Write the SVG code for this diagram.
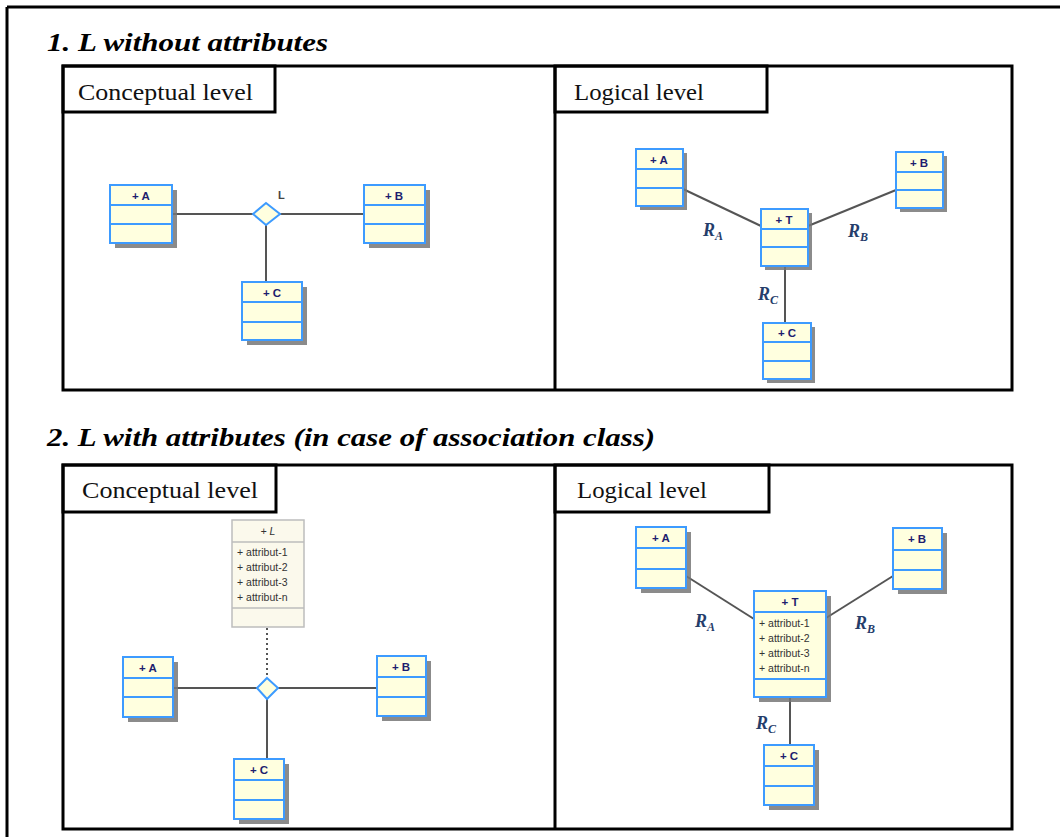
<svg xmlns="http://www.w3.org/2000/svg" width="1060" height="837" viewBox="0 0 1060 837">
<style>
.frame{fill:none;stroke:#000;stroke-width:3}
.title{font-family:"Liberation Serif","DejaVu Serif",serif;font-weight:bold;font-style:italic;font-size:25px;fill:#000}
.tab{font-family:"Liberation Serif","DejaVu Serif",serif;font-size:23px;fill:#111}
.sh{fill:#777;opacity:0.85}
.cls{fill:#ffffdf;stroke:#3d9bff;stroke-width:2}
.sep{stroke:#3d9bff;stroke-width:2}
.gcls{fill:#fbf9ec;stroke:#bdbdbd;stroke-width:1.5}
.gsep{stroke:#bdbdbd;stroke-width:1.5}
.ct{font-family:"Liberation Sans",Arial,sans-serif;font-weight:bold;font-size:11.5px;fill:#1e1e6e;text-anchor:middle}
.at{font-family:"Liberation Sans",Arial,sans-serif;font-size:10.5px;fill:#333}
.conn{stroke:#555;stroke-width:2;fill:none}
.dash{stroke:#555;stroke-width:2;stroke-dasharray:2 3;fill:none}
.dia{fill:#ffffdf;stroke:#3d9bff;stroke-width:2}
.rl{font-family:"Liberation Serif","DejaVu Serif",serif;font-weight:bold;font-style:italic;font-size:18px;fill:#253d6b}
.sub{font-size:12px}
.ll{font-family:"Liberation Sans",Arial,sans-serif;font-weight:bold;font-size:11px;fill:#444}
</style>

<g id="outer">
<line class="frame" x1="7" y1="7" x2="1060" y2="7"/>
<line class="frame" x1="7" y1="7" x2="7" y2="837"/>
</g>

<text class="title" x="47" y="51" textLength="281" lengthAdjust="spacingAndGlyphs">1. L without attributes</text>
<text class="title" x="47" y="446" textLength="608" lengthAdjust="spacingAndGlyphs">2. L with attributes (in case of association class)</text>

<g id="frame1">
<rect class="frame" x="63" y="66" width="949" height="324"/>
<line class="frame" x1="555" y1="66" x2="555" y2="390"/>
<rect class="frame" x="63" y="66" width="212" height="46"/>
<rect class="frame" x="555" y="66" width="212" height="46"/>
<text class="tab" x="78" y="100" textLength="175" lengthAdjust="spacingAndGlyphs">Conceptual level</text>
<text class="tab" x="574" y="100" textLength="130" lengthAdjust="spacingAndGlyphs">Logical level</text>
</g>

<g id="frame2">
<rect class="frame" x="63" y="465" width="949" height="364"/>
<line class="frame" x1="555" y1="465" x2="555" y2="829"/>
<rect class="frame" x="63" y="465" width="213" height="47"/>
<rect class="frame" x="555" y="465" width="214" height="47"/>
<text class="tab" x="82" y="498" textLength="176" lengthAdjust="spacingAndGlyphs">Conceptual level</text>
<text class="tab" x="577" y="498" textLength="130" lengthAdjust="spacingAndGlyphs">Logical level</text>
</g>

<g id="connectors">
<line class="conn" x1="172" y1="214" x2="253" y2="214"/>
<line class="conn" x1="280" y1="214" x2="364" y2="214"/>
<line class="conn" x1="266" y1="225" x2="266" y2="282"/>
<line class="conn" x1="683" y1="189" x2="761" y2="226"/>
<line class="conn" x1="808" y1="226" x2="896" y2="190"/>
<line class="conn" x1="785" y1="266" x2="785" y2="323"/>
<line class="conn" x1="173" y1="688" x2="257" y2="688"/>
<line class="conn" x1="278" y1="688" x2="377" y2="688"/>
<line class="conn" x1="267" y1="699" x2="267" y2="759"/>
<line class="dash" x1="267" y1="628" x2="267" y2="677"/>
<line class="conn" x1="686" y1="576" x2="754" y2="619"/>
<line class="conn" x1="826" y1="618" x2="893" y2="576"/>
<line class="conn" x1="790" y1="697" x2="790" y2="745"/>
<text class="rl" x="703" y="236">R<tspan class="sub" dy="4">A</tspan></text>
<text class="rl" x="848" y="237">R<tspan class="sub" dy="4">B</tspan></text>
<text class="rl" x="758" y="300">R<tspan class="sub" dy="4">C</tspan></text>
<text class="rl" x="695" y="627">R<tspan class="sub" dy="4">A</tspan></text>
<text class="rl" x="855" y="629">R<tspan class="sub" dy="4">B</tspan></text>
<text class="rl" x="756" y="729">R<tspan class="sub" dy="4">C</tspan></text>
</g>

<g id="c1-diamond">
<polygon class="dia" points="266,203 280,214 266,225 253,214"/>
<text class="ll" x="278" y="199">L</text>
</g>
<g id="c1-A">
<rect class="sh" x="115" y="190" width="62" height="58"/>
<rect class="cls" x="110" y="185" width="62" height="58"/>
<line class="sep" x1="110" y1="205" x2="172" y2="205"/>
<line class="sep" x1="110" y1="224" x2="172" y2="224"/>
<text class="ct" x="141" y="200" font-size="13">+ A</text>
</g>
<g id="c1-B">
<rect class="sh" x="369" y="190" width="61" height="58"/>
<rect class="cls" x="364" y="185" width="61" height="58"/>
<line class="sep" x1="364" y1="205" x2="425" y2="205"/>
<line class="sep" x1="364" y1="224" x2="425" y2="224"/>
<text class="ct" x="394" y="200" font-size="13">+ B</text>
</g>
<g id="c1-C">
<rect class="sh" x="247" y="287" width="60" height="58"/>
<rect class="cls" x="242" y="282" width="60" height="58"/>
<line class="sep" x1="242" y1="302" x2="302" y2="302"/>
<line class="sep" x1="242" y1="322" x2="302" y2="322"/>
<text class="ct" x="272" y="297" font-size="13">+ C</text>
</g>

<g id="l1-A">
<rect class="sh" x="640" y="153" width="47" height="57"/>
<rect class="cls" x="636" y="149" width="47" height="57"/>
<line class="sep" x1="636" y1="169" x2="683" y2="169"/>
<line class="sep" x1="636" y1="188" x2="683" y2="188"/>
<text class="ct" x="659" y="164" font-size="10.5">+ A</text>
</g>
<g id="l1-B">
<rect class="sh" x="900" y="156" width="47" height="56"/>
<rect class="cls" x="896" y="152" width="47" height="56"/>
<line class="sep" x1="896" y1="172" x2="943" y2="172"/>
<line class="sep" x1="896" y1="190" x2="943" y2="190"/>
<text class="ct" x="919" y="167" font-size="10.5">+ B</text>
</g>
<g id="l1-T">
<rect class="sh" x="765" y="213" width="47" height="57"/>
<rect class="cls" x="761" y="209" width="47" height="57"/>
<line class="sep" x1="761" y1="229" x2="808" y2="229"/>
<line class="sep" x1="761" y1="247" x2="808" y2="247"/>
<text class="ct" x="784" y="224" font-size="10.5">+ T</text>
</g>
<g id="l1-C">
<rect class="sh" x="767" y="327" width="48" height="56"/>
<rect class="cls" x="763" y="323" width="48" height="56"/>
<line class="sep" x1="763" y1="342" x2="811" y2="342"/>
<line class="sep" x1="763" y1="361" x2="811" y2="361"/>
<text class="ct" x="787" y="337" font-size="10.5">+ C</text>
</g>

<g id="c2-L">
<rect class="gcls" x="232" y="520" width="72" height="107"/>
<line class="gsep" x1="232" y1="542" x2="304" y2="542"/>
<line class="gsep" x1="232" y1="608" x2="304" y2="608"/>
<text x="268" y="535" font-family="Liberation Sans, Arial, sans-serif" font-size="10.5" font-style="italic" fill="#333" text-anchor="middle">+ L</text>
<text class="at" x="237" y="556">+ attribut-1</text>
<text class="at" x="237" y="571">+ attribut-2</text>
<text class="at" x="237" y="586">+ attribut-3</text>
<text class="at" x="237" y="601">+ attribut-n</text>
</g>
<g id="c2-diamond">
<polygon class="dia" points="267,678 278,688 267,699 257,688"/>
</g>
<g id="c2-A">
<rect class="sh" x="128" y="662" width="50" height="60"/>
<rect class="cls" x="123" y="657" width="50" height="60"/>
<line class="sep" x1="123" y1="678" x2="173" y2="678"/>
<line class="sep" x1="123" y1="697" x2="173" y2="697"/>
<text class="ct" x="148" y="672">+ A</text>
</g>
<g id="c2-B">
<rect class="sh" x="382" y="661" width="49" height="60"/>
<rect class="cls" x="377" y="656" width="49" height="60"/>
<line class="sep" x1="377" y1="677" x2="426" y2="677"/>
<line class="sep" x1="377" y1="697" x2="426" y2="697"/>
<text class="ct" x="401" y="671">+ B</text>
</g>
<g id="c2-C">
<rect class="sh" x="239" y="764" width="50" height="60"/>
<rect class="cls" x="234" y="759" width="50" height="60"/>
<line class="sep" x1="234" y1="780" x2="284" y2="780"/>
<line class="sep" x1="234" y1="800" x2="284" y2="800"/>
<text class="ct" x="259" y="774">+ C</text>
</g>

<g id="l2-A">
<rect class="sh" x="641" y="532" width="50" height="61"/>
<rect class="cls" x="636" y="527" width="50" height="61"/>
<line class="sep" x1="636" y1="548" x2="686" y2="548"/>
<line class="sep" x1="636" y1="569" x2="686" y2="569"/>
<text class="ct" x="661" y="542">+ A</text>
</g>
<g id="l2-B">
<rect class="sh" x="898" y="533" width="49" height="61"/>
<rect class="cls" x="893" y="528" width="49" height="61"/>
<line class="sep" x1="893" y1="550" x2="942" y2="550"/>
<line class="sep" x1="893" y1="570" x2="942" y2="570"/>
<text class="ct" x="917" y="543">+ B</text>
</g>
<g id="l2-T">
<rect class="sh" x="759" y="596" width="72" height="106"/>
<rect class="cls" x="754" y="591" width="72" height="106"/>
<line class="sep" x1="754" y1="612" x2="826" y2="612"/>
<line class="sep" x1="754" y1="679" x2="826" y2="679"/>
<text class="ct" x="790" y="606">+ T</text>
<text class="at" x="759" y="627">+ attribut-1</text>
<text class="at" x="759" y="642">+ attribut-2</text>
<text class="at" x="759" y="657">+ attribut-3</text>
<text class="at" x="759" y="672">+ attribut-n</text>
</g>
<g id="l2-C">
<rect class="sh" x="769" y="750" width="50" height="60"/>
<rect class="cls" x="764" y="745" width="50" height="60"/>
<line class="sep" x1="764" y1="766" x2="814" y2="766"/>
<line class="sep" x1="764" y1="786" x2="814" y2="786"/>
<text class="ct" x="789" y="760">+ C</text>
</g>
</svg>
